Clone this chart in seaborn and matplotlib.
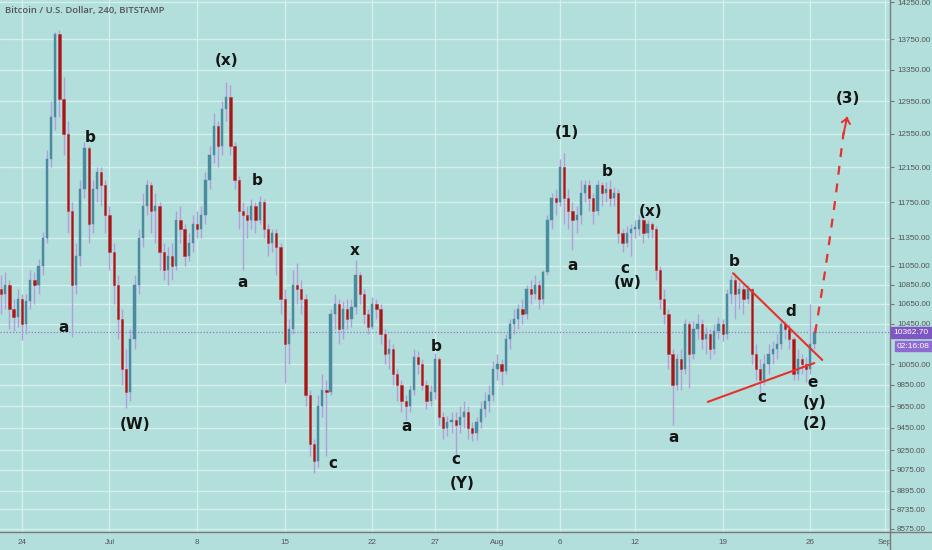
import matplotlib
matplotlib.use('Agg')
import matplotlib.pyplot as plt
import matplotlib.dates as mdates
import matplotlib.transforms as mtransforms
from matplotlib.lines import Line2D
import seaborn as sns
import pandas as pd
import numpy as np

# 8-hour candles, BTC/USD (Bitstamp)
START = '2019-06-22 08:00'
FIRST_OPEN = 10800

closes = [
    10750, 10850, 10600, 10520, 10700, 10450, 10680, 10900, 10850, 11050,
    11350, 12250, 12750, 13820, 12980, 12550, 11650, 10850, 11150, 11900,
    12380, 11500, 11900, 12100, 11950, 11600, 11200, 10850, 10500, 10000,
    9780, 10300, 10850, 11350, 11700, 11950, 11650, 11700, 11200, 11000,
    11150, 11050, 11550, 11450, 11150, 11300, 11500, 11450, 11600, 12000,
    12300, 12650, 12400, 12850, 13000, 12400, 12000, 11650, 11600, 11550,
    11700, 11550, 11750, 11450, 11300, 11400, 11250, 10700, 10250, 10400,
    10850, 10800, 10700, 9750, 9300, 9150, 9650, 9800, 9780, 10550,
    10650, 10400, 10600, 10500, 10620, 10950, 10750, 10550, 10420, 10650,
    10600, 10350, 10150, 10200, 9950, 9850, 9700, 9650, 9800, 10120,
    10050, 9850, 9700, 9780, 10100, 9550, 9450, 9500, 9520, 9480,
    9550, 9600, 9450, 9400, 9500, 9620, 9700, 9750, 10000, 10050,
    9980, 10300, 10450, 10500, 10600, 10550, 10800, 10750, 10850, 10700,
    10980, 11550, 11800, 11750, 12150, 11800, 11650, 11550, 11600, 11850,
    11950, 11800, 11650, 11950, 11850, 11900, 11800, 11850, 11400, 11300,
    11400, 11450, 11450, 11550, 11400, 11500, 11450, 11000, 10700, 10550,
    10150, 9850, 10100, 10000, 10450, 10150, 10400, 10450, 10300, 10350,
    10200, 10380, 10450, 10350, 10750, 10900, 10750, 10800, 10700, 10800,
    10150, 10000, 9900, 10050, 10150, 10200, 10250, 10450, 10400, 10300,
    9950, 10100, 10050, 10000, 10250, 10362.7,
]

highs = [
    10950, 10980, 10900, 10700, 10800, 10750, 10750, 11000, 10980, 11120,
    11420, 12350, 12950, 13850, 13870, 13250, 12700, 11750, 11300, 12000,
    12450, 12400, 12000, 12150, 12150, 12000, 11700, 11300, 10950, 10600,
    10200, 10400, 10950, 11450, 11850, 12000, 11980, 11850, 11750, 11300,
    11250, 11300, 11650, 11700, 11500, 11400, 11600, 11650, 11700, 12100,
    12400, 12800, 12700, 12950, 13190, 13150, 12450, 12050, 11750, 11700,
    11780, 11750, 11820, 11780, 11500, 11450, 11450, 11300, 10800, 10500,
    11000, 11080, 10900, 10750, 9800, 9350, 9750, 9950, 9900, 10600,
    10750, 10700, 10680, 10700, 10700, 11110, 10980, 10800, 10600, 10720,
    10700, 10650, 10400, 10300, 10250, 10000, 9900, 9750, 9850, 10200,
    10180, 10100, 9900, 9850, 10160, 10120, 9600, 9560, 9600, 9600,
    9650, 9700, 9650, 9500, 9550, 9700, 9780, 9850, 10080, 10150,
    10100, 10350, 10500, 10600, 10650, 10700, 10850, 10900, 10950, 10900,
    11000, 11600, 11850, 11900, 12250, 12320, 11900, 11750, 11700, 12000,
    12000, 12000, 11850, 12000, 11980, 11980, 12000, 11920, 11900, 11450,
    11480, 11500, 11550, 11600, 11580, 11550, 11530, 11480, 11050, 10800,
    10600, 10200, 10150, 10200, 10500, 10480, 10480, 10550, 10500, 10420,
    10400, 10450, 10520, 10500, 10800, 10950, 10970, 10880, 10850, 10850,
    10820, 10250, 10100, 10150, 10250, 10280, 10350, 10500, 10480, 10450,
    10320, 10200, 10150, 10120, 10650, 10420,
]

lows = [
    10550, 10600, 10400, 10380, 10420, 10290, 10350, 10600, 10650, 10750,
    10950, 11300, 12150, 12600, 12750, 12300, 11400, 10320, 10750, 11050,
    11800, 11300, 11400, 11750, 11700, 11400, 11000, 10650, 10300, 9850,
    9630, 9700, 10200, 10750, 11250, 11600, 11400, 11300, 11000, 10900,
    10850, 10900, 11000, 11300, 11050, 11100, 11200, 11350, 11350, 11500,
    11900, 12200, 12150, 12300, 12700, 12300, 11900, 11450, 11005, 11350,
    11450, 11400, 11500, 11350, 11150, 11200, 10950, 10550, 9870, 10050,
    10350, 10650, 10550, 9650, 9200, 9050, 9100, 9550, 9200, 9750,
    10400, 10250, 10300, 10400, 10420, 10550, 10650, 10450, 10350, 10400,
    10500, 10250, 10050, 10000, 9850, 9700, 9600, 9520, 9600, 9750,
    9950, 9800, 9620, 9650, 9720, 9480, 9350, 9380, 9400, 9190,
    9400, 9450, 9350, 9330, 9340, 9450, 9550, 9600, 9700, 9900,
    9850, 9950, 10200, 10350, 10400, 10450, 10500, 10650, 10700, 10600,
    10650, 10950, 11450, 11600, 11700, 11500, 11450, 11220, 11400, 11500,
    11750, 11650, 11500, 11600, 11700, 11750, 11700, 11700, 11300, 11200,
    11250, 11150, 11350, 11380, 11300, 11350, 11350, 10900, 10600, 10450,
    10000, 9480, 9800, 9800, 9950, 9820, 10100, 10300, 10200, 10150,
    10100, 10150, 10300, 10280, 10300, 10650, 10500, 10600, 10550, 10650,
    10050, 9900, 9770, 9850, 9950, 10050, 10100, 10200, 10300, 10200,
    9900, 9900, 9950, 9880, 9950, 10200,
]

# axis ticks
price_ticks = [14250, 13750, 13350, 12950, 12550, 12150, 11750, 11350, 11050, 10850,
               10650, 10450, 10050, 9850, 9650, 9450, 9250, 9075, 8895, 8735, 8575]
date_ticks = ['2019-06-24', '2019-07-01', '2019-07-08', '2019-07-15', '2019-07-22',
              '2019-07-27', '2019-08-01', '2019-08-06', '2019-08-12', '2019-08-19',
              '2019-08-26', '2019-09-01']
date_tick_labels = ['24', 'Jul', '8', '15', '22', '27', 'Aug', '6', '12', '19', '26', 'Sep']

# wave labels (text, time, price)
wave_text = ['b', '(x)', 'b', 'a', 'a', '(W)', 'c', 'x', 'b', 'a', 'c', '(Y)',
             '(1)', 'a', 'b', 'c', '(w)', '(x)', 'a', 'b', 'c', 'd', 'e', '(y)', '(2)', '(3)']
wave_time = ['2019-06-29 10:30', '2019-07-10 07:40', '2019-07-12 19:00', '2019-07-11 16:00',
             '2019-06-27 07:00', '2019-07-03 01:00', '2019-07-18 21:00', '2019-07-20 15:00',
             '2019-07-27 02:30', '2019-07-24 17:00', '2019-07-28 17:00', '2019-07-29 04:00',
             '2019-08-06 14:00', '2019-08-07 01:00', '2019-08-09 18:30', '2019-08-11 05:00',
             '2019-08-11 09:00', '2019-08-13 05:00', '2019-08-15 01:00', '2019-08-19 22:00',
             '2019-08-22 04:00', '2019-08-24 10:00', '2019-08-26 04:00', '2019-08-26 08:00',
             '2019-08-26 10:00', '2019-08-29 01:00']
wave_price = [12510, 13475, 11993, 10868, 10406, 9478, 9128, 11218, 10218, 9460, 9163, 8955,
              12560, 11057, 12098, 11025, 10868, 11638, 9360, 11090, 9728, 10568, 9870, 9681,
              9487, 12979]

# triangle trend lines
upper_time = ['2019-08-19 20:00', '2019-08-26 23:00']
upper_price = [10970, 10090]
lower_time = ['2019-08-17 19:30', '2019-08-26 08:00']
lower_price = [9690, 10060]

# projected path to wave (3)
proj_time = ['2019-08-26 09:30', '2019-08-27 04:50', '2019-08-28 00:00',
             '2019-08-28 15:20', '2019-08-28 23:00']
proj_price = [10356, 11005, 11775, 12535, 12755]

last_price = 10362.70
countdown = '02:16:08'

BG = '#b2dfdb'
GRID = '#d4efec'
BULL = '#4b8ba0'
BEAR = '#9b1b1b'
BEAR_EDGE = '#d32f2f'
WICK = '#b39ddb'
RED = '#e8302c'
PURPLE = '#7e57c2'

sns.set_style('white', {'axes.facecolor': BG, 'figure.facecolor': BG})

fig = plt.figure(figsize=(9.32, 5.5), dpi=100)
ax = fig.add_axes([0, 18 / 550, 890 / 932, 532 / 550])

t = pd.date_range(START, periods=len(closes), freq='8h')
x = mdates.date2num(t.to_pydatetime())
c = np.array(closes, dtype=float)
o = np.concatenate([[FIRST_OPEN], c[:-1]])
h = np.maximum(np.array(highs, dtype=float), np.maximum(o, c))
l = np.minimum(np.array(lows, dtype=float), np.minimum(o, c))
bull = c >= o

ax.set_yscale('log')
ax.set_ylim(8547, 14278)
ax.set_xlim(mdates.date2num(pd.Timestamp('2019-06-22 06:00')),
            mdates.date2num(pd.Timestamp('2019-09-01 09:00')))

# grid
for p in price_ticks:
    ax.axhline(p, color=GRID, lw=1.0, zorder=0)
for d in date_ticks:
    ax.axvline(mdates.date2num(pd.Timestamp(d)), color=GRID, lw=1.0, zorder=0)

# candles
ax.vlines(x, l, h, color=WICK, lw=1.0, zorder=2)
body_low = np.minimum(o, c)
body_h = np.maximum(np.abs(c - o), 15)
ax.bar(x[bull], body_h[bull], bottom=body_low[bull], width=0.18,
       color=BULL, edgecolor=BULL, linewidth=0.3, zorder=3)
ax.bar(x[~bull], body_h[~bull], bottom=body_low[~bull], width=0.18,
       color=BEAR, edgecolor=BEAR_EDGE, linewidth=0.4, zorder=3)

# current price line
ax.axhline(last_price, color='#9575cd', lw=0.9, ls=(0, (1, 1.5)), zorder=1)

# triangle and projection
tri = pd.DataFrame({'t': mdates.date2num(pd.to_datetime(upper_time).to_pydatetime()), 'p': upper_price})
sns.lineplot(data=tri, x='t', y='p', ax=ax, color=RED, lw=1.5, zorder=5)
tri2 = pd.DataFrame({'t': mdates.date2num(pd.to_datetime(lower_time).to_pydatetime()), 'p': lower_price})
sns.lineplot(data=tri2, x='t', y='p', ax=ax, color=RED, lw=1.5, zorder=5)
proj = pd.DataFrame({'t': mdates.date2num(pd.to_datetime(proj_time).to_pydatetime()), 'p': proj_price})
sns.lineplot(data=proj, x='t', y='p', ax=ax, color=RED, lw=1.6, linestyle=(0, (4, 4)),
             sort=False, estimator=None, zorder=5)
ax.annotate('', xy=(proj['t'].iloc[-1], proj['p'].iloc[-1]),
            xytext=(proj['t'].iloc[-2], proj['p'].iloc[-2]),
            arrowprops=dict(arrowstyle='->,head_length=0.35,head_width=0.3',
                            color=RED, lw=1.4, shrinkA=14, shrinkB=0), zorder=5)

# wave labels
for txt, tm, pr in zip(wave_text, wave_time, wave_price):
    ax.text(mdates.date2num(pd.Timestamp(tm)), pr, txt, ha='center', va='center',
            fontsize=11, fontweight='bold', color='#151515', zorder=6)

# axes styling
ax.set_xticks([mdates.date2num(pd.Timestamp(d)) for d in date_ticks])
ax.set_xticklabels(date_tick_labels)
ax.set_yticks(price_ticks)
ax.set_yticklabels([f'{p:.2f}' for p in price_ticks])
ax.yaxis.set_minor_locator(plt.NullLocator())
ax.yaxis.tick_right()
ax.tick_params(axis='both', labelsize=5.8, colors='#787878', labelcolor='#555555',
               length=3, width=0.8, pad=2)
for lab in ax.get_xticklabels() + ax.get_yticklabels():
    lab.set_family('Liberation Sans')
ax.set_xlabel('')
ax.set_ylabel('')
for side in ['left', 'top']:
    ax.spines[side].set_visible(False)
for side in ['right', 'bottom']:
    ax.spines[side].set_color('#7a7a7a')
    ax.spines[side].set_linewidth(1.0)

fig.add_artist(Line2D([890 / 932, 1], [18 / 550, 18 / 550], color='#7a7a7a', lw=1.0))
fig.add_artist(Line2D([890 / 932, 890 / 932], [0, 18 / 550], color='#7a7a7a', lw=1.0))

# price box
tr = mtransforms.blended_transform_factory(ax.transAxes, ax.transData)
ax.text(1.004, last_price, f'{last_price:.2f}', transform=tr, ha='left', va='center',
        fontsize=6.0, color='white', family='Liberation Sans', clip_on=False,
        bbox=dict(boxstyle='square,pad=0.25', fc=PURPLE, ec=PURPLE))
ax.annotate(countdown, xy=(1.008, last_price), xycoords=tr, xytext=(0, -10),
            textcoords='offset points', ha='left', va='center', fontsize=6.0,
            color='white', family='Liberation Sans', annotation_clip=False,
            bbox=dict(boxstyle='square,pad=0.2', fc='#8e6bd0', ec='#8e6bd0'))

fig.text(5 / 932, 1 - 11 / 550, 'Bitcoin / U.S. Dollar, 240, BITSTAMP', fontsize=6.8,
         color='#555555', family='Open Sans', fontweight='semibold', va='center', ha='left')

fig.savefig('out.png', dpi=100, facecolor=BG)
